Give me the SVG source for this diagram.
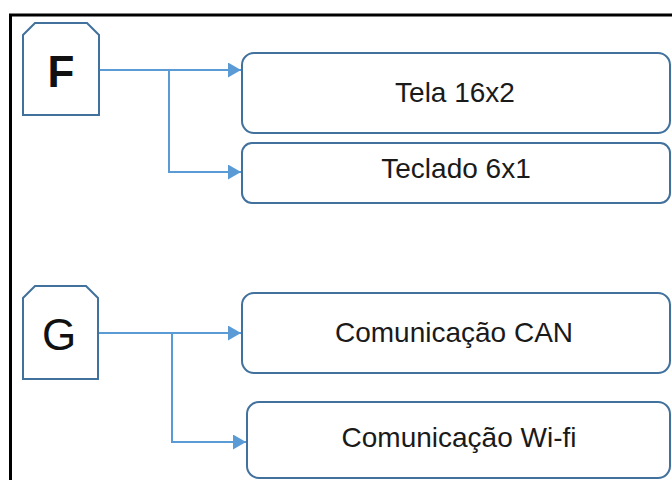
<svg xmlns="http://www.w3.org/2000/svg" width="672" height="480" viewBox="0 0 672 480">
  <style>
    .frame { fill: none; stroke: #000; stroke-width: 3; }
    .tag { fill: #fff; stroke: #41719C; stroke-width: 2; }
    .box { fill: #fff; stroke: #41719C; stroke-width: 2; }
    .wire { fill: none; stroke: #5B9BD5; stroke-width: 2; }
    .letter { font-family: "Liberation Sans", Arial, sans-serif; font-size: 44px; fill: #111; text-anchor: middle; }
    .label { font-family: "Liberation Sans", Arial, sans-serif; font-size: 28px; fill: #1a1a1a; text-anchor: middle; }
  </style>
  <defs>
    <marker id="arrow" markerUnits="userSpaceOnUse" markerWidth="14" markerHeight="16" refX="13" refY="7.5" orient="auto">
      <path d="M0,0 L13,7.5 L0,15 Z" fill="#5B9BD5"/>
    </marker>
  </defs>

  <rect width="672" height="480" fill="#fff"/>

  <!-- outer frame -->
  <path class="frame" d="M10.5,480 V15 H672"/>

  <!-- connectors -->
  <g id="connectors">
    <path class="wire" d="M99,70 H241" marker-end="url(#arrow)"/>
    <path class="wire" d="M169,70 V172 H241" marker-end="url(#arrow)"/>
    <path class="wire" d="M98,333 H241" marker-end="url(#arrow)"/>
    <path class="wire" d="M172,333 V442 H246" marker-end="url(#arrow)"/>
  </g>

  <!-- group F -->
  <g id="node-F">
    <path class="tag" d="M23,115 V35 L35,23 H87 L99,35 V115 Z"/>
    <text class="letter" x="61" y="87" font-weight="bold">F</text>
  </g>

  <g id="node-tela">
    <rect class="box" x="242" y="53" width="428" height="80" rx="12"/>
    <text class="label" x="455" y="102">Tela 16x2</text>
  </g>

  <g id="node-teclado">
    <rect class="box" x="242" y="143" width="428" height="60" rx="10"/>
    <text class="label" x="456" y="178">Teclado 6x1</text>
  </g>

  <!-- group G -->
  <g id="node-G">
    <path class="tag" d="M23,379 V298 L35,286 H86 L98,298 V379 Z"/>
    <text class="letter" x="59" y="350">G</text>
  </g>

  <g id="node-can">
    <rect class="box" x="242" y="293" width="428" height="80" rx="12"/>
    <text class="label" x="454" y="342">Comunicação CAN</text>
  </g>

  <g id="node-wifi">
    <rect class="box" x="247" y="402" width="423" height="76" rx="12"/>
    <text class="label" x="459" y="447">Comunicação Wi-fi</text>
  </g>
</svg>
